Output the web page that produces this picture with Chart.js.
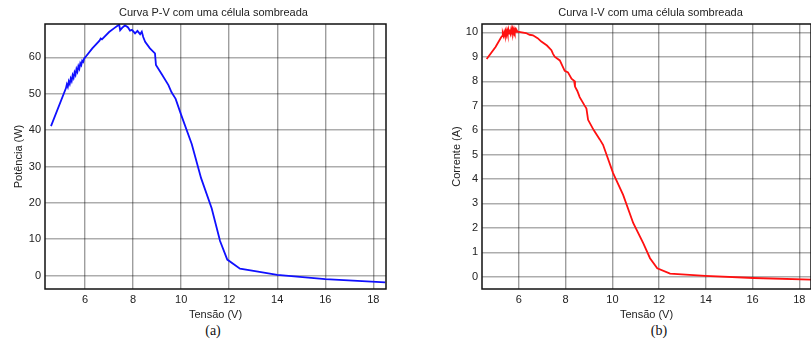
<!DOCTYPE html>
<html>
<head>
<meta charset="utf-8">
<script src="https://cdn.jsdelivr.net/npm/chart.js@4.4.1/dist/chart.umd.min.js"></script>
<style>
  html, body { margin: 0; padding: 0; background: #fff; }
  body { width: 811px; height: 346px; overflow: hidden; position: relative; }
  .box { position: absolute; top: 0; height: 322px; }
  .cap { position: absolute; top: 323px; width: 60px; text-align: center;
         font: 14px "Liberation Serif", "Times New Roman", serif; color: #111; }
</style>
</head>
<body>
<div class="box" style="left:0;width:400px"><canvas id="pvChart"></canvas></div>
<div class="box" style="left:400px;width:420px"><canvas id="ivChart"></canvas></div>
<div class="cap" style="left:183px">(a)</div>
<div class="cap" style="left:629px">(b)</div>
<script>
"use strict";

// curva P-V (tensão V, potência W)
const pvVoltage = [4.58, 5.2, 5.24, 5.28, 5.32, 5.36, 5.4, 5.44, 5.48, 5.52, 5.56, 5.6, 5.64, 5.68,
  5.72, 5.76, 5.8, 5.84, 5.88, 5.92, 5.96, 6.0,
  6.3, 6.6, 6.65, 6.7, 7.0, 7.2, 7.35, 7.42, 7.46, 7.55, 7.66, 7.78, 7.87, 7.95, 8.08, 8.18, 8.29,
  8.36, 8.42, 8.5, 8.7, 8.91, 8.95, 9.2, 9.47, 9.6, 9.77, 10.0, 10.44, 10.83, 11.27, 11.62, 11.92,
  12.45, 13.2, 14.0, 16.0, 18.5];
const pvPower = [41.1, 51.5, 52.6, 51.9, 53.4, 52.7, 54.2, 53.5, 55.1, 54.4, 55.9, 55.2, 56.8, 56.1,
  57.6, 56.9, 58.4, 57.9, 59.1, 58.8, 59.7, 60.0,
  62.5, 64.6, 65.2, 65.0, 67.0, 68.0, 68.7, 69.0, 67.5, 68.2, 68.8, 68.3, 67.4, 67.6, 66.6, 67.3, 66.4,
  67.1, 65.6, 64.3, 62.5, 61.1, 57.9, 55.3, 52.4, 50.4, 48.6, 44.2, 36.2, 26.8, 18.5, 9.5, 4.4,
  1.9, 1.1, 0.2, -1.0, -1.9];

// curva I-V (tensão V, corrente A)
const ivVoltage = [4.62, 5.0, 5.24, 5.28, 5.31, 5.34, 5.37, 5.4, 5.43, 5.46, 5.49, 5.52, 5.55, 5.58,
  5.61, 5.64, 5.67, 5.7, 5.73, 5.76, 5.79, 5.82, 5.85, 5.88, 5.91, 5.94, 6.0, 6.3, 6.46, 6.6, 6.8, 6.96,
  7.2, 7.39, 7.46, 7.53, 7.75, 7.96, 8.1, 8.25, 8.36, 8.4, 8.5,
  8.6, 8.8, 8.89, 8.96, 9.2, 9.46, 9.6, 10.03, 10.46, 10.89, 11.32, 11.61, 11.92, 12.47, 13.97, 16.04, 18.5];
const ivCurrent = [8.91, 9.4, 9.8, 9.84, 9.96, 9.86, 10.0, 9.88, 10.04, 9.9, 10.07, 9.93, 10.1, 9.95,
  10.12, 9.97, 10.13, 9.99, 10.14, 10.0, 10.13, 10.01, 10.11, 10.02, 10.08, 10.03, 10.02, 9.97, 9.9, 9.88, 9.76, 9.62,
  9.46, 9.27, 9.12, 9.0, 8.85, 8.42, 8.36, 8.1, 8.02, 7.78, 7.6,
  7.35, 7.02, 6.88, 6.42, 6.0, 5.62, 5.4, 4.24, 3.35, 2.2, 1.38, 0.76, 0.35, 0.13, 0.04, -0.05, -0.12];

const xTickValues = [6, 8, 10, 12, 14, 16, 18];
const pvTickValues = [0, 10, 20, 30, 40, 50, 60];
const ivTickValues = [0, 1, 2, 3, 4, 5, 6, 7, 8, 9, 10];

const FONT = "'Liberation Sans', Arial, sans-serif";

function toPoints(xs, ys) {
  return xs.map((x, i) => ({ x: x, y: ys[i] }));
}

// moldura preta + título centrado sobre a área do gráfico
const framePlugin = {
  id: "frame",
  afterDraw: (chart, args, opts) => {
    const { ctx, chartArea: { top, bottom, left, right } } = chart;
    ctx.save();
    ctx.strokeStyle = "#111";
    ctx.lineWidth = 1.5;
    ctx.strokeRect(left, top, right - left, bottom - top);
    ctx.fillStyle = "#222";
    ctx.font = "11px " + FONT;
    ctx.textAlign = "center";
    ctx.textBaseline = "middle";
    ctx.fillText(opts.text, (left + right) / 2 + opts.dx, 13);
    ctx.restore();
  },
};

function createCurveChart(elementId, cfg) {
  const ctx = document.getElementById(elementId);

  new Chart(ctx, {
    type: "line",
    data: {
      datasets: [
        {
          data: toPoints(cfg.xs, cfg.ys),
          borderColor: cfg.color,
          borderWidth: 1.8,
          pointRadius: 0,
          tension: 0,
          fill: false,
        },
      ],
    },
    options: {
      responsive: true,
      maintainAspectRatio: false,
      animation: false,
      layout: { padding: { top: 24, right: cfg.padRight, bottom: 0, left: 0 } },
      plugins: {
        legend: { display: false },
        tooltip: { enabled: false },
        title: { display: false },
        frame: { text: cfg.title, dx: cfg.titleDx },
      },
      scales: {
        x: {
          type: "linear",
          min: cfg.xMin,
          max: cfg.xMax,
          afterBuildTicks: (scale) => {
            scale.ticks = xTickValues.map((v) => ({ value: v }));
          },
          afterFit: (scale) => {
            scale.height = 33;
          },
          border: { display: false },
          grid: { color: "rgba(0,0,0,0.38)", lineWidth: 1.4, drawTicks: false },
          ticks: { padding: 4, color: "#222", font: { family: FONT, size: 11 } },
          title: {
            display: true,
            text: "Tensão (V)",
            color: "#222",
            font: { family: FONT, size: 11 },
            padding: { top: 3, bottom: 0 },
          },
        },
        y: {
          type: "linear",
          min: cfg.yMin,
          max: cfg.yMax,
          afterBuildTicks: (scale) => {
            scale.ticks = cfg.yTicks.map((v) => ({ value: v }));
          },
          afterFit: (scale) => {
            scale.width = cfg.yWidth;
          },
          border: { display: false },
          grid: { color: "rgba(0,0,0,0.32)", lineWidth: 1.4, drawTicks: false },
          ticks: { padding: 4, color: "#222", font: { family: FONT, size: 11 } },
          title: {
            display: true,
            text: cfg.yTitle,
            color: "#222",
            font: { family: FONT, size: 11 },
            padding: { top: cfg.yTitlePad, bottom: 0 },
          },
        },
      },
    },
    plugins: [framePlugin],
  });
}

createCurveChart("pvChart", {
  xs: pvVoltage,
  ys: pvPower,
  color: "#1010ff",
  title: "Curva P-V com uma célula sombreada",
  titleDx: -2,
  yTitle: "Potência (W)",
  yTicks: pvTickValues,
  xMin: 4.33,
  xMax: 18.53,
  yMin: -3.7,
  yMax: 69.2,
  yWidth: 45,
  yTitlePad: 12,
  padRight: 14,
});

createCurveChart("ivChart", {
  xs: ivVoltage,
  ys: ivCurrent,
  color: "#ff1010",
  title: "Curva I-V com uma célula sombreada",
  titleDx: 4,
  yTitle: "Corrente (A)",
  yTicks: ivTickValues,
  xMin: 4.42,
  xMax: 18.5,
  yMin: -0.5,
  yMax: 10.34,
  yWidth: 82,
  yTitlePad: 50,
  padRight: 9,
});
</script>
</body>
</html>
